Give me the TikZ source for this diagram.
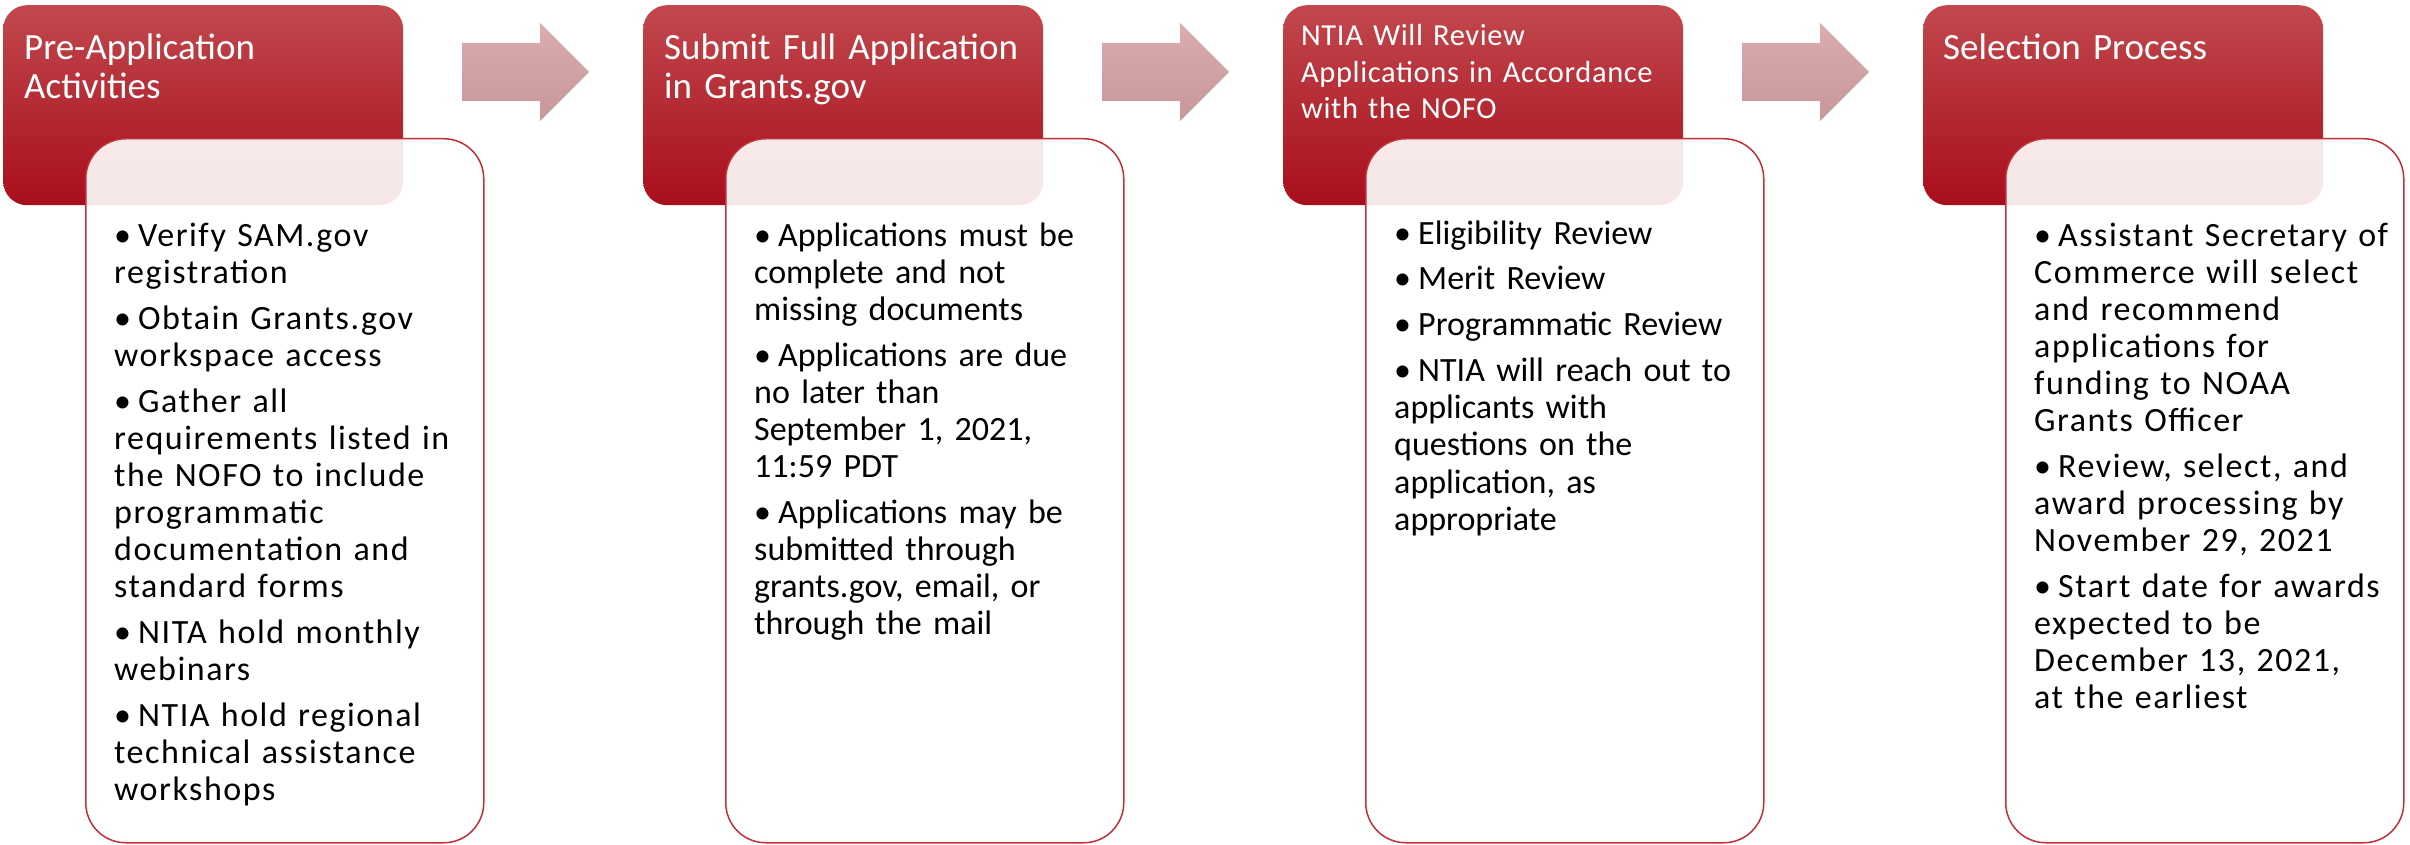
\documentclass[tikz,border=0pt]{standalone}
\usepackage{fontspec}
\setmainfont{Carlito}
\newfontfamily\widefont[LetterSpace=4.5]{Carlito}
\newfontfamily\semiwidefont[LetterSpace=2]{Carlito}
\definecolor{hdtop}{RGB}{193,72,78}
\definecolor{hdmid}{RGB}{181,26,37}
\definecolor{hdbot}{RGB}{168,14,26}
\definecolor{arrtop}{RGB}{219,173,175}
\definecolor{arrbot}{RGB}{199,150,152}
\definecolor{bodyline}{RGB}{192,48,58}
\newcommand\bi[1]{\hangindent=24pt\hangafter=1\noindent\makebox[24pt][l]{\textbullet}#1\par\vspace{9pt}}
\tikzset{
  hdr/.style={rectangle, rounded corners=24pt, top color=hdtop, middle color=hdmid, bottom color=hdbot, draw=none, minimum width=400pt, minimum height=200pt, anchor=north west, inner sep=0pt},
  bodybox/.style={rectangle, rounded corners=40pt, fill=white, fill opacity=0.9, draw=bodyline, draw opacity=1, line width=1.5pt, minimum width=398pt, minimum height=704pt, anchor=north west, inner sep=0pt},
  ttl/.style={anchor=base west, inner sep=0pt, text=white, text width=385pt, align=left, font=\fontsize{37}{39}\selectfont},
  ttlsmall/.style={ttl, font=\semiwidefont\fontsize{30.5}{36.5}\selectfont},
  bodytxt/.style={anchor=base west, inner sep=0pt, text=black, text width=370pt, align=left, font=\fontsize{34}{37}\selectfont},
  bodywide/.style={bodytxt, font=\widefont\fontsize{34}{37}\selectfont},
  arrowshade/.style={top color=arrtop, bottom color=arrbot, draw=none}
}
\begin{document}
\begin{tikzpicture}[x=1pt,y=-1pt]
\useasboundingbox (0,0) rectangle (2410,845);
% headers
\node[hdr] (h1) at (3,5) {};
\node[hdr] (h2) at (643,5) {};
\node[hdr] (h3) at (1283,5) {};
\node[hdr] (h4) at (1923,5) {};
% arrows
\foreach \dx in {0,640,1280}{
  \shade[arrowshade] (462+\dx,43) -- (540+\dx,43) -- (540+\dx,23) -- (589+\dx,72) -- (540+\dx,121) -- (540+\dx,101) -- (462+\dx,101) -- cycle;
}
% header titles
\node[ttl] (t1) at (24,60) {Pre-Application\\Activities};
\node[ttl] (t2) at (664,60) {Submit Full Application\\in Grants.gov};
\node[ttlsmall] (t3) at (1301,46) {NTIA Will Review\\Applications in Accordance\\with the NOFO};
\node[ttl] (t4) at (1943,60) {Selection Process};
% bodies
\node[bodybox] (b1) at (85,138) {};
\node[bodybox] (b2) at (725,138) {};
\node[bodybox] (b3) at (1365,138) {};
\node[bodybox] (b4) at (2005,138) {};
% body texts
\node[bodywide] (x1) at (114,247) {%
\bi{Verify SAM.gov\\registration}%
\bi{Obtain Grants.gov\\workspace access}%
\bi{Gather all\\requirements listed in\\the NOFO to include\\programmatic\\documentation and\\standard forms}%
\bi{NITA hold monthly\\webinars}%
\bi{NTIA hold regional\\technical assistance\\workshops}};
\node[bodytxt] (x2) at (754,247) {%
\bi{Applications must be\\complete and not\\missing documents}%
\bi{Applications are due\\no later than\\September 1, 2021,\\11:59 PDT}%
\bi{Applications may be\\submitted through\\grants.gov, email, or\\through the mail}};
\node[bodytxt] (x3) at (1394,244) {%
\bi{Eligibility Review}%
\bi{Merit Review}%
\bi{Programmatic Review}%
\bi{NTIA will reach out to\\applicants with\\questions on the\\application, as\\appropriate}};
\node[bodywide] (x4) at (2034,247) {%
\bi{Assistant Secretary of\\Commerce will select\\and recommend\\applications for\\funding to NOAA\\Grants Officer}%
\bi{Review, select, and\\award processing by\\November 29, 2021}%
\bi{Start date for awards\\expected to be\\December 13, 2021,\\at the earliest}};
\end{tikzpicture}
\end{document}
